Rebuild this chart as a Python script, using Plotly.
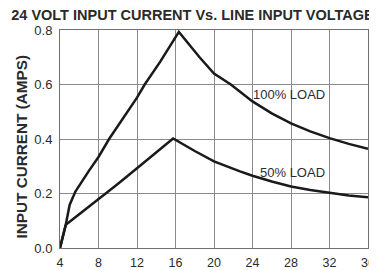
import plotly.graph_objects as go

# Line input voltage (V) and input current (A)
v_100 = [4, 4.6, 5.0, 5.2, 5.6, 7, 8, 9.1, 10.5, 12, 12.8, 14.4, 16.35, 18.5, 20, 21.75, 24, 26, 28, 30, 32, 34, 36]
i_100 = [0, 0.085, 0.158, 0.176, 0.207, 0.283, 0.334, 0.40, 0.475, 0.552, 0.60, 0.683, 0.793, 0.70, 0.640, 0.60, 0.538, 0.494, 0.457, 0.428, 0.403, 0.382, 0.364]

v_50 = [4, 4.6, 5.1, 8, 10, 12, 14, 15.75, 18, 20, 22.7, 24, 26, 28, 30, 32, 34, 36]
i_50 = [0, 0.085, 0.099, 0.178, 0.235, 0.293, 0.352, 0.402, 0.356, 0.318, 0.281, 0.265, 0.244, 0.226, 0.213, 0.202, 0.193, 0.186]

x_ticks = [4, 8, 12, 16, 20, 24, 28, 32, 36]
y_ticks = [0.0, 0.2, 0.4, 0.6, 0.8]

title_text = "24 VOLT INPUT CURRENT Vs. LINE INPUT VOLTAGE"
y_title = "INPUT CURRENT (AMPS)"
label_100 = "100% LOAD"
label_50 = "50% LOAD"

FONT = "Liberation Sans, Arial, sans-serif"
TXT = "#2a2a2a"

fig = go.Figure()
fig.add_trace(go.Scatter(x=v_100, y=i_100, mode="lines",
                         line=dict(color="#1a1a1a", width=2.5), showlegend=False))
fig.add_trace(go.Scatter(x=v_50, y=i_50, mode="lines",
                         line=dict(color="#1a1a1a", width=2.5), showlegend=False))

fig.add_annotation(x=31.78, y=0.562, text=label_100, showarrow=False,
                   xanchor="right", yanchor="middle",
                   font=dict(family=FONT, size=13, color="#2b2b38"))
fig.add_annotation(x=31.78, y=0.277, text=label_50, showarrow=False,
                   xanchor="right", yanchor="middle",
                   font=dict(family=FONT, size=13, color="#2b2b38"))

fig.add_annotation(xref="paper", yref="paper", x=-0.1264, y=0.466,
                   text="<b>%s</b>" % y_title, showarrow=False, textangle=-90,
                   xanchor="center", yanchor="middle",
                   font=dict(family=FONT, size=15.3, color=TXT))

# the page body adds an 8px offset, so the figure is 8px smaller than the window
fig.update_layout(
    width=369, height=262,
    margin=dict(l=51.5, r=9, t=21.7, b=21.5, autoexpand=False),
    paper_bgcolor="white", plot_bgcolor="white",
    title=dict(text="<b>%s</b>" % title_text, x=0.5, xref="container", xanchor="center",
               y=0.974, yref="container", yanchor="middle",
               font=dict(family=FONT, size=14.5, color=TXT)),
    font=dict(family=FONT, size=13, color=TXT),
)
fig.update_xaxes(range=[4, 36], tickvals=x_ticks, ticktext=[str(t) for t in x_ticks],
                 automargin=False, ticklabeloverflow="allow",
                 showgrid=True, gridcolor="#8a8a8a", gridwidth=1,
                 showline=True, linecolor="#707070", linewidth=1, mirror=True,
                 ticks="outside", ticklen=3, tickcolor="rgba(0,0,0,0)",
                 zeroline=False, tickfont=dict(size=12.5, color=TXT))
fig.update_yaxes(range=[0, 0.8], tickvals=y_ticks, ticktext=["%.1f" % t for t in y_ticks],
                 automargin=False, ticklabeloverflow="allow",
                 showgrid=True, gridcolor="#8a8a8a", gridwidth=1,
                 showline=True, linecolor="#707070", linewidth=1, mirror=True,
                 ticks="outside", ticklen=4, tickcolor="rgba(0,0,0,0)",
                 zeroline=False, tickfont=dict(size=13, color=TXT))

fig.write_html("out.html")
